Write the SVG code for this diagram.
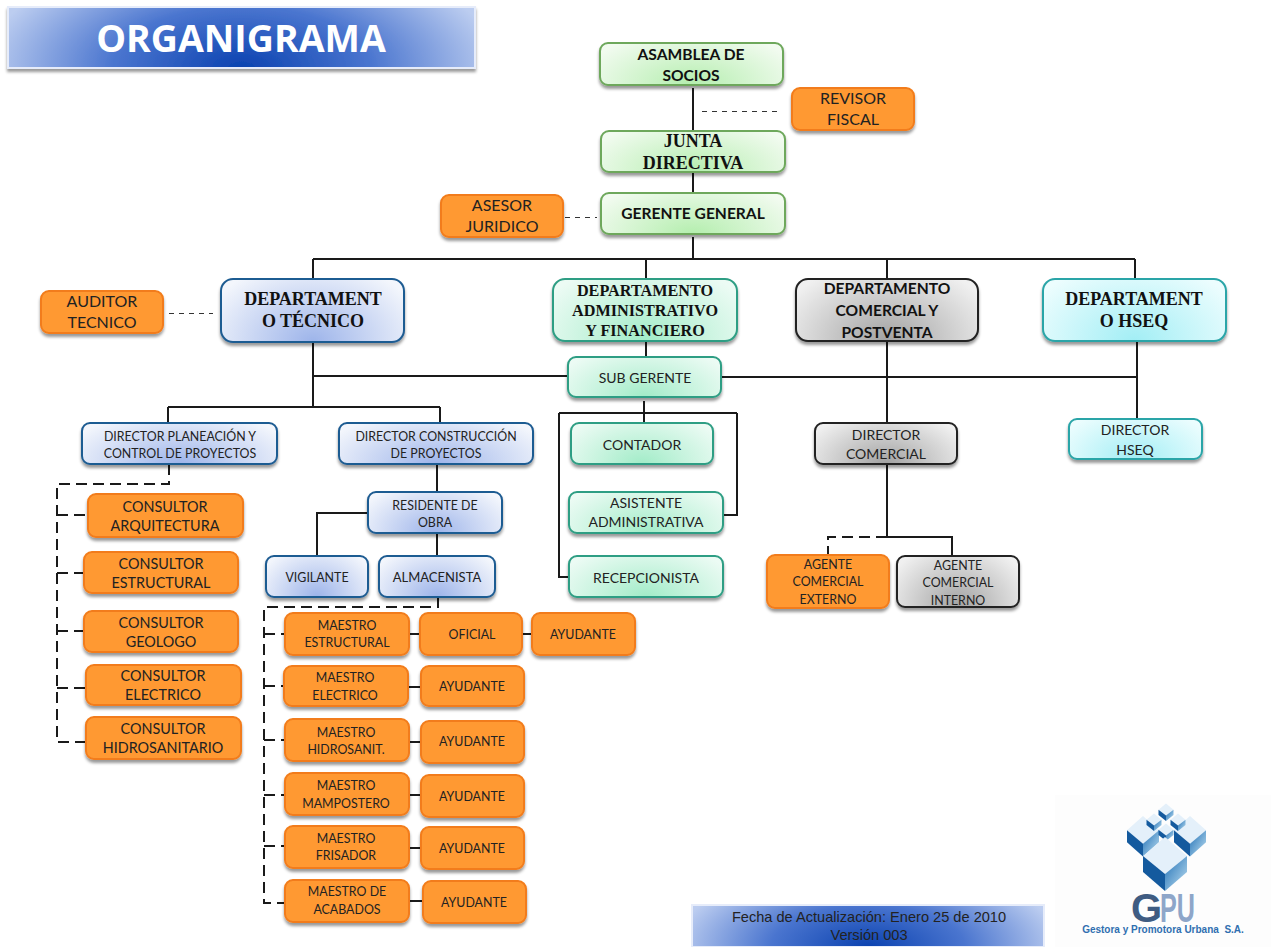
<svg xmlns="http://www.w3.org/2000/svg" width="1271" height="947" viewBox="0 0 1271 947">
<style>
.n{stroke-width:2;filter:url(#sh)}
.or{fill:#ff9933;stroke:#f27c1a}
.bl{fill:url(#gb);stroke:#1f5c92}
.gr{fill:url(#gg);stroke:#2f9e84}
.lg{fill:url(#glg);stroke:#6ea85c}
.gy{fill:url(#ggy);stroke:#222}
.cy{fill:url(#gcy);stroke:#2aa5a8}
text{font-family:Lato,"Liberation Sans",sans-serif;text-anchor:middle;fill:#222}
.s14{font-size:14px}.s13{font-size:12.4px}.s15{font-size:14.4px}.s16{font-size:16px}
.b{font-weight:700;fill:#111;font-size:15.6px}
.se{font-family:"Liberation Serif",serif;font-weight:700;fill:#111;font-size:18px}
.se2{font-size:16.2px}
.ar{font-family:"Liberation Sans",sans-serif;font-size:14.6px}
.gpu{font-family:"Liberation Sans",sans-serif;font-weight:700;font-size:40px;text-anchor:start}
.c{fill:none;stroke:#1a1a1a;stroke-width:2}
.d{stroke-dasharray:11 6}
.t{stroke-width:1;stroke-dasharray:5 5;stroke:#333}
</style>
<defs>
<filter id="sh" x="-10%" y="-15%" width="120%" height="140%"><feDropShadow dx="0" dy="3" stdDeviation="1.6" flood-color="#000" flood-opacity=".4"/></filter>
<radialGradient id="gb" cx="0" cy="0" r="1" gradientTransform="translate(.5 1) scale(.62 1.3)"><stop offset="0" stop-color="#9db4ea"/><stop offset="1" stop-color="#f3f6fc"/></radialGradient>
<radialGradient id="gg" cx="0" cy="0" r="1" gradientTransform="translate(.5 1) scale(.62 1.3)"><stop offset="0" stop-color="#a2ecc8"/><stop offset="1" stop-color="#ecfbf4"/></radialGradient>
<radialGradient id="glg" cx="0" cy="0" r="1" gradientTransform="translate(.5 1) scale(.62 1.3)"><stop offset="0" stop-color="#b4eeae"/><stop offset="1" stop-color="#f2fbf0"/></radialGradient>
<radialGradient id="ggy" cx="0" cy="0" r="1" gradientTransform="translate(.5 1) scale(.62 1.3)"><stop offset="0" stop-color="#a2a2a2"/><stop offset="1" stop-color="#f0f0f0"/></radialGradient>
<radialGradient id="gcy" cx="0" cy="0" r="1" gradientTransform="translate(.5 1) scale(.62 1.3)"><stop offset="0" stop-color="#a2eef5"/><stop offset="1" stop-color="#ecfdfe"/></radialGradient>
<radialGradient id="tg" cx="0" cy="0" r="1" gradientTransform="translate(.5 1) scale(.55 2)"><stop offset="0" stop-color="#0b42b0"/><stop offset=".5" stop-color="#4a75cf"/><stop offset="1" stop-color="#bccdf0"/></radialGradient>
<linearGradient id="cr" x1="0" y1="0" x2="1" y2="1"><stop offset="0" stop-color="#1f6fb5"/><stop offset="1" stop-color="#bfe0f2"/></linearGradient>
<g id="cube"><path d="M0-1 1-.05 0 .85-1-.05Z" fill="#e4f0fa"/><path d="M-1-.05 0 .85V1.7L-1 .75Z" fill="#145a9e"/><path d="M1-.05 0 .85V1.7L1 .75Z" fill="url(#cr)"/></g>
</defs>
<rect width="1271" height="947" fill="#fff"/>
<g id="connectors">
<path class="c" d="M693 88V131M693 172V193M693 237V259M313 259H1135M313 259V279M646 259V279M887 259V279M1135 259V279"/>
<path class="c t" d="M702 111.500H782M565 217.500H597M169 313.500H213"/>
<path class="c" d="M313 342V407M313 376H568M721 377H1137M1137 341V419M646 341V357M887 341V423"/>
<path class="c" d="M644 401V423M559 413H737M559 413V577H569M737 413V515H723"/>
<path class="c" d="M168 407H440M168 407V423M440 407V423M437 464V492M368 513H317V556M437 533V556"/>
<path class="c d" d="M169 464V484H57V742H86M57 515H88M57 573H84M57 631H84M57 688H86"/>
<path class="c d" d="M438 597V607H264V903H285M264 634H285M264 686H284M264 740H285M264 795H285M264 846H285"/>
<path class="c" d="M409 634H420M522 634H532M408 687H421M409 742H421M409 795H421M409 848H421M409 901H423"/>
<path class="c" d="M887 464V537H952V556"/>
<path class="c d" d="M887 537H828V555"/>
</g>
<g id="title"><rect x="8" y="7" width="467" height="61" fill="url(#tg)" stroke="#e6ecfa" stroke-width="2" filter="url(#sh)"/><text x="241" y="52" font-size="37.500" font-weight="700" style="fill:#fff;font-family:'Open Sans',sans-serif">ORGANIGRAMA</text></g>
<g id="asamblea"><rect class="n lg" x="600" y="43" width="183" height="42" rx="8"/><text class="b" x="691" y="60">ASAMBLEA DE</text><text class="b" x="691" y="81">SOCIOS</text></g>
<g id="revisor"><rect class="n or" x="792" y="88" width="122" height="42" rx="8"/><text class="s16" x="853" y="104">REVISOR</text><text class="s16" x="853" y="125">FISCAL</text></g>
<g id="junta"><rect class="n lg" x="601" y="131" width="184" height="41" rx="8"/><text class="se" x="693" y="147">JUNTA</text><text class="se" x="693" y="169">DIRECTIVA</text></g>
<g id="gerente"><rect class="n lg" x="601" y="193" width="184" height="41" rx="8"/><text class="b" x="693" y="219">GERENTE GENERAL</text></g>
<g id="asesor"><rect class="n or" x="441" y="195" width="122" height="42" rx="8"/><text class="s16" x="502" y="211">ASESOR</text><text class="s16" x="502" y="232">JURIDICO</text></g>
<g id="auditor"><rect class="n or" x="41" y="291" width="122" height="42" rx="8"/><text class="s16" x="102" y="307">AUDITOR</text><text class="s16" x="102" y="328">TECNICO</text></g>
<g id="dep-tecnico"><rect class="n bl" x="221" y="279" width="183" height="63" rx="12"/><text class="se" x="313" y="305">DEPARTAMENT</text><text class="se" x="313" y="327">O TÉCNICO</text></g>
<g id="dep-admin"><rect class="n gr" x="553" y="279" width="184" height="62" rx="12"/><text class="se se2" x="645" y="296">DEPARTAMENTO</text><text class="se se2" x="645" y="316">ADMINISTRATIVO</text><text class="se se2" x="645" y="336">Y FINANCIERO</text></g>
<g id="dep-comercial"><rect class="n gy" x="796" y="279" width="182" height="62" rx="12"/><text class="b" x="887" y="294">DEPARTAMENTO</text><text class="b" x="887" y="316">COMERCIAL Y</text><text class="b" x="887" y="338">POSTVENTA</text></g>
<g id="dep-hseq"><rect class="n cy" x="1043" y="279" width="183" height="62" rx="12"/><text class="se" x="1134" y="305">DEPARTAMENT</text><text class="se" x="1134" y="327">O HSEQ</text></g>
<g id="sub-gerente"><rect class="n gr" x="568" y="357" width="153" height="40" rx="8"/><text class="s14" x="645" y="383">SUB GERENTE</text></g>
<g id="contador"><rect class="n gr" x="571" y="423" width="142" height="41" rx="8"/><text class="s14" x="642" y="450">CONTADOR</text></g>
<g id="asistente"><rect class="n gr" x="569" y="492" width="154" height="41" rx="8"/><text class="s14" x="646" y="508">ASISTENTE</text><text class="s14" x="646" y="527">ADMINISTRATIVA</text></g>
<g id="recepcionista"><rect class="n gr" x="569" y="556" width="154" height="41" rx="8"/><text class="s14" x="646" y="583">RECEPCIONISTA</text></g>
<g id="dir-comercial"><rect class="n gy" x="815" y="423" width="142" height="41" rx="8"/><text class="s14" x="886" y="440">DIRECTOR</text><text class="s14" x="886" y="459">COMERCIAL</text></g>
<g id="dir-hseq"><rect class="n cy" x="1069" y="419" width="133" height="40" rx="8"/><text class="s14" x="1135" y="435">DIRECTOR</text><text class="s14" x="1135" y="455">HSEQ</text></g>
<g id="agente-ext"><rect class="n or" x="767" y="555" width="122" height="53" rx="8"/><text class="s13" x="828" y="569">AGENTE</text><text class="s13" x="828" y="586">COMERCIAL</text><text class="s13" x="828" y="604">EXTERNO</text></g>
<g id="agente-int"><rect class="n gy" x="897" y="556" width="122" height="51" rx="8"/><text class="s13" x="958" y="570">AGENTE</text><text class="s13" x="958" y="587">COMERCIAL</text><text class="s13" x="958" y="605">INTERNO</text></g>
<g id="dir-planeacion"><rect class="n bl" x="82" y="423" width="195" height="41" rx="8"/><text class="s13" x="180" y="441">DIRECTOR PLANEACIÓN Y</text><text class="s13" x="180" y="458">CONTROL DE PROYECTOS</text></g>
<g id="dir-construccion"><rect class="n bl" x="339" y="423" width="194" height="41" rx="8"/><text class="s13" x="436" y="441">DIRECTOR CONSTRUCCIÓN</text><text class="s13" x="436" y="458">DE PROYECTOS</text></g>
<g id="residente"><rect class="n bl" x="368" y="492" width="134" height="41" rx="8"/><text class="s13" x="435" y="510">RESIDENTE DE</text><text class="s13" x="435" y="527">OBRA</text></g>
<g id="vigilante"><rect class="n bl" x="266" y="556" width="102" height="41" rx="8"/><text class="s13" x="317" y="582">VIGILANTE</text></g>
<g id="almacenista"><rect class="n bl" x="379" y="556" width="116" height="41" rx="8"/><text class="s13" x="437" y="582" style="font-size:13px">ALMACENISTA</text></g>
<g id="c-arq"><rect class="n or" x="88" y="494" width="155" height="43" rx="8"/><text class="s15" x="165" y="512">CONSULTOR</text><text class="s15" x="165" y="531">ARQUITECTURA</text></g>
<g id="c-est"><rect class="n or" x="84" y="552" width="154" height="41" rx="8"/><text class="s15" x="161" y="569">CONSULTOR</text><text class="s15" x="161" y="588">ESTRUCTURAL</text></g>
<g id="c-geo"><rect class="n or" x="84" y="611" width="154" height="41" rx="8"/><text class="s15" x="161" y="628">CONSULTOR</text><text class="s15" x="161" y="647">GEOLOGO</text></g>
<g id="c-ele"><rect class="n or" x="86" y="665" width="155" height="40" rx="8"/><text class="s15" x="163" y="681">CONSULTOR</text><text class="s15" x="163" y="700">ELECTRICO</text></g>
<g id="c-hid"><rect class="n or" x="86" y="717" width="155" height="42" rx="8"/><text class="s15" x="163" y="734">CONSULTOR</text><text class="s15" x="163" y="753">HIDROSANITARIO</text></g>
<g id="m-est"><rect class="n or" x="285" y="613" width="124" height="42" rx="8"/><text class="s13" x="347" y="630">MAESTRO</text><text class="s13" x="347" y="647">ESTRUCTURAL</text></g>
<g id="of"><rect class="n or" x="420" y="613" width="102" height="42" rx="8"/><text class="s13" x="472" y="639">OFICIAL</text></g>
<g id="ay0"><rect class="n or" x="532" y="613" width="103" height="42" rx="8"/><text class="s13" x="583" y="639">AYUDANTE</text></g>
<g id="m-ele"><rect class="n or" x="284" y="666" width="124" height="40" rx="8"/><text class="s13" x="345" y="682">MAESTRO</text><text class="s13" x="345" y="700">ELECTRICO</text></g>
<g id="ay1"><rect class="n or" x="421" y="666" width="103" height="40" rx="8"/><text class="s13" x="472" y="691">AYUDANTE</text></g>
<g id="m-hid"><rect class="n or" x="285" y="719" width="124" height="42" rx="8"/><text class="s13" x="346" y="737">MAESTRO</text><text class="s13" x="346" y="754">HIDROSANIT.</text></g>
<g id="ay2"><rect class="n or" x="421" y="721" width="103" height="42" rx="8"/><text class="s13" x="472" y="746">AYUDANTE</text></g>
<g id="m-mam"><rect class="n or" x="285" y="773" width="124" height="42" rx="8"/><text class="s13" x="346" y="790">MAESTRO</text><text class="s13" x="346" y="808">MAMPOSTERO</text></g>
<g id="ay3"><rect class="n or" x="421" y="775" width="103" height="42" rx="8"/><text class="s13" x="472" y="801">AYUDANTE</text></g>
<g id="m-fri"><rect class="n or" x="285" y="826" width="124" height="42" rx="8"/><text class="s13" x="346" y="843">MAESTRO</text><text class="s13" x="346" y="860">FRISADOR</text></g>
<g id="ay4"><rect class="n or" x="421" y="827" width="103" height="42" rx="8"/><text class="s13" x="472" y="853">AYUDANTE</text></g>
<g id="m-aca"><rect class="n or" x="285" y="880" width="124" height="42" rx="8"/><text class="s13" x="347" y="896">MAESTRO DE</text><text class="s13" x="347" y="914">ACABADOS</text></g>
<g id="ay5"><rect class="n or" x="423" y="881" width="103" height="42" rx="8"/><text class="s13" x="474" y="907">AYUDANTE</text></g>
<g id="footer"><rect x="692" y="905" width="352" height="42" fill="url(#tg)" stroke="#e6ecfa" stroke-width="2"/><text class="ar" x="869" y="922">Fecha de Actualización: Enero 25 de 2010</text><text class="ar" x="869" y="940">Versión 003</text></g>
<g id="logo"><rect x="1055" y="795" width="216" height="152" fill="#fdfdfd"/>
<use href="#cube" transform="translate(1143 831) scale(16 15)"/>
<use href="#cube" transform="translate(1190 831) scale(16 15)"/>
<use href="#cube" transform="translate(1166 810) scale(7.500 6.500)"/>
<use href="#cube" transform="translate(1154 820) scale(7.500 6.500)"/>
<use href="#cube" transform="translate(1178 820) scale(7.500 6.500)"/>
<use href="#cube" transform="translate(1166 830) scale(7.500 6.500)"/>
<use href="#cube" transform="translate(1165 857) scale(22 20)"/>
<text class="gpu" x="1131" y="922" style="fill:#3f5c82">G</text>
<text class="gpu" x="1160" y="922" style="fill:#8ea6c9" textLength="35" lengthAdjust="spacingAndGlyphs">PU</text>
<text x="1163" y="933" font-size="10" font-weight="700" style="font-family:'Liberation Sans',sans-serif;fill:#2f6fb0;white-space:pre">Gestora y Promotora Urbana  S.A.</text></g>
</svg>
